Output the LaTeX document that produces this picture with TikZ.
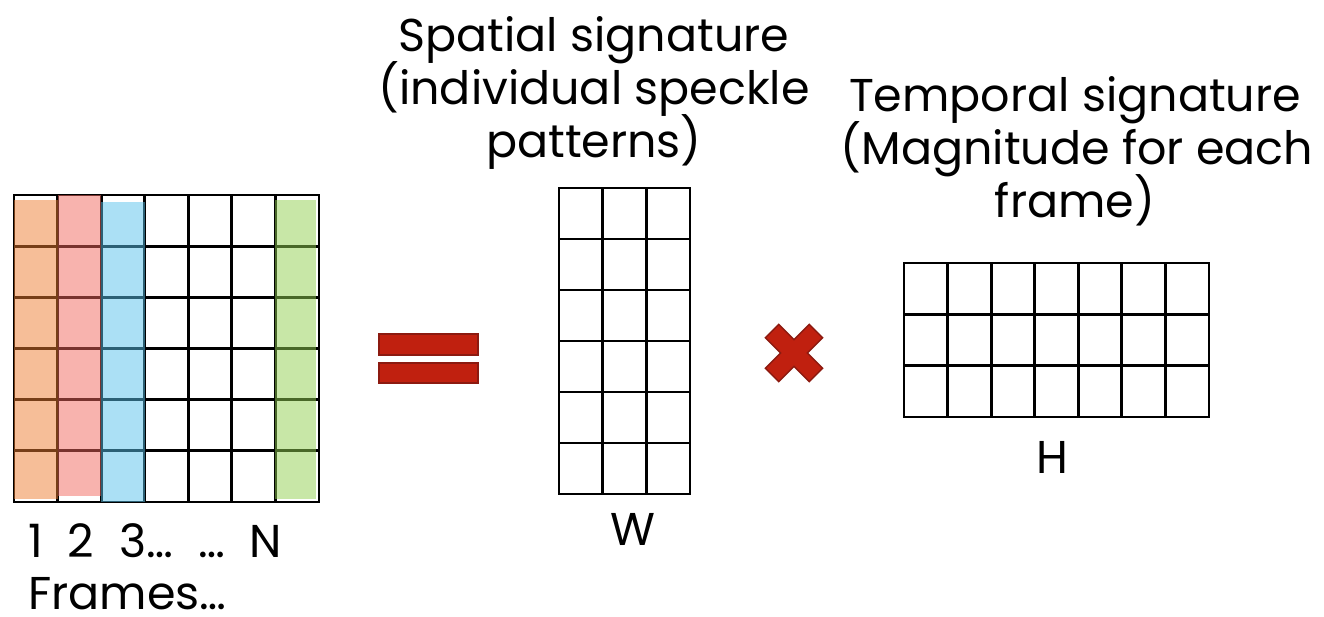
\documentclass[tikz,border=0pt]{standalone}
\usepackage{fontspec}
\setmainfont{Poppins}
\definecolor{cOrange}{RGB}{237,125,49}
\definecolor{cPink}{RGB}{241,103,93}
\definecolor{cBlue}{RGB}{87,193,235}
\definecolor{cGreen}{RGB}{146,208,80}
\definecolor{cRed}{RGB}{192,32,15}
\definecolor{cRedDark}{RGB}{140,26,16}
\tikzset{
  gridline/.style={line width=2.8pt, black, line cap=rect},
  colfill/.style={fill opacity=0.5},
  symb/.style={fill=cRed, draw=cRedDark, line width=1.4pt, line join=miter},
  txt/.style={font=\fontsize{46}{54}\selectfont, anchor=base, inner sep=0pt, text=black},
}
\begin{document}
\begin{tikzpicture}[x=1pt, y=-1pt]
\useasboundingbox (0,0) rectangle (1324,617);
% left grid 7x6
\foreach \i in {0,...,7} \draw[gridline] ({14+\i*43.57},195) -- ({14+\i*43.57},502);
\foreach \j in {0,...,6} \draw[gridline] (14,{195+\j*51.17}) -- (319,{195+\j*51.17});
\fill[cOrange, colfill] (14,200) rectangle (58,499);
\fill[cPink, colfill] (58,195) rectangle (101,496);
\fill[cBlue, colfill] (101,202) rectangle (145,502);
\fill[cGreen, colfill] (275,200) rectangle (316,499);
% equals
\draw[symb] (379,334) rectangle (478,355);
\draw[symb] (379,363) rectangle (478,383);
% middle grid 3x6
\foreach \i in {0,...,3} \draw[gridline] ({559+\i*43.67},188) -- ({559+\i*43.67},494);
\foreach \j in {0,...,6} \draw[gridline] (559,{188+\j*51}) -- (690,{188+\j*51});
% times
\begin{scope}[shift={(794,353)}, rotate=45]
\draw[symb] (9.5,9.5) -- (9.5,31) -- (-9.5,31) -- (-9.5,9.5) -- (-31,9.5) -- (-31,-9.5) -- (-9.5,-9.5) -- (-9.5,-31) -- (9.5,-31) -- (9.5,-9.5) -- (31,-9.5) -- (31,9.5) -- cycle;
\end{scope}
% right grid 7x3
\foreach \i in {0,...,7} \draw[gridline] ({904+\i*43.57},263) -- ({904+\i*43.57},417);
\foreach \j in {0,...,3} \draw[gridline] (904,{263+\j*51.33}) -- (1209,{263+\j*51.33});
% texts
\node[txt] (sp1) at (594,52) {Spatial signature};
\node[txt] (sp2) at (594,105) {(individual speckle};
\node[txt] (sp3) at (594,158) {patterns)};
\node[txt] (tp1) at (1075,112) {Temporal signature};
\node[txt] (tp2) at (1077,165) {(Magnitude for each};
\node[txt] (tp3) at (1075,218) {frame)};
\node[txt] (w) at (633,545) {W};
\node[txt] (h) at (1052,473) {H};
\node[txt, anchor=base west] (nums) at (28,557) {\spaceskip=25pt\relax 1 2 3… … N};
\node[txt, anchor=base west, text depth=0pt] (frames) at (28,609) {Frames…};
\end{tikzpicture}
\end{document}
